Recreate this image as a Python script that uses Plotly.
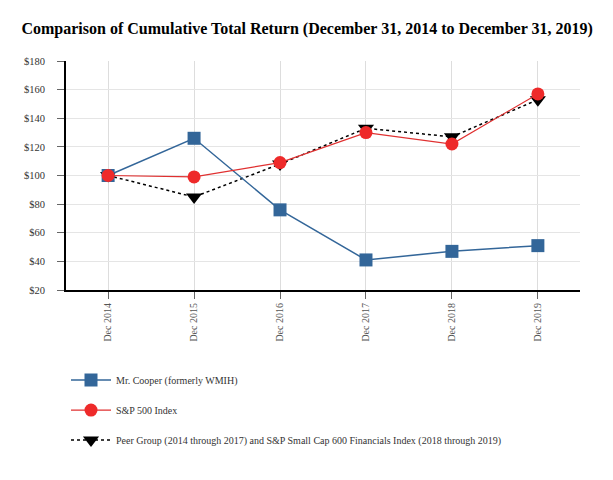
import plotly.graph_objects as go

categories = ["Dec 2014", "Dec 2015", "Dec 2016", "Dec 2017", "Dec 2018", "Dec 2019"]
mr_cooper = [100, 126, 76, 41, 47, 51]
sp500 = [100, 99, 109, 130, 122, 157]
peer = [100, 85, 108, 133, 127, 153]
y_ticks = [20, 40, 60, 80, 100, 120, 140, 160, 180]
y_tick_labels = ["$" + str(v) for v in y_ticks]

FONT = "Liberation Serif"

fig = go.Figure()
fig.add_trace(go.Scatter(
    x=categories, y=peer, name="Peer Group (2014 through 2017) and S&P Small Cap 600 Financials Index (2018 through 2019)",
    mode="lines+markers", legendgroup="c", legendrank=3,
    line=dict(color="black", width=1.5, dash="dot"),
    marker=dict(symbol="triangle-down", size=14, color="black"),
))
fig.add_trace(go.Scatter(
    x=categories, y=mr_cooper, name="Mr. Cooper (formerly WMIH)",
    mode="lines+markers", legendgroup="a", legendrank=1,
    line=dict(color="#336699", width=1.5),
    marker=dict(symbol="square", size=13, color="#336699"),
))
fig.add_trace(go.Scatter(
    x=categories, y=sp500, name="S&P 500 Index",
    mode="lines+markers", legendgroup="b", legendrank=2,
    line=dict(color="#e03030", width=1.2),
    marker=dict(symbol="circle", size=13, color="#ee2a2a"),
))

fig.update_layout(
    width=613, height=480,
    margin=dict(l=58, r=41, t=53, b=198),
    paper_bgcolor="white", plot_bgcolor="white",
    font=dict(family=FONT, size=10, color="#333"),
    title=dict(text="<b>Comparison of Cumulative Total Return (December 31, 2014 to December 31, 2019)</b>",
               x=0.488, xanchor="center", y=0.958, yanchor="middle",
               font=dict(family=FONT, size=16, color="black")),
    showlegend=True,
    legend=dict(orientation="v", x=0.0, xanchor="left", y=-0.33, yanchor="top",
                tracegroupgap=11, itemwidth=40,
                font=dict(family=FONT, size=10, color="#333"),
                bgcolor="rgba(0,0,0,0)", traceorder="grouped"),
)
fig.update_xaxes(
    type="category", range=[-0.49, 5.49],
    showgrid=True, gridcolor="#dddddd", gridwidth=1,
    showline=True, linecolor="black", linewidth=2,
    ticks="outside", ticklen=7, tickcolor="#666", tickangle=-90,
    tickfont=dict(family=FONT, size=10, color="#555"),
)
fig.update_yaxes(
    range=[20, 180], tickvals=y_ticks, ticktext=y_tick_labels,
    showgrid=True, gridcolor="#e5e5e5", gridwidth=1,
    showline=True, linecolor="black", linewidth=2,
    ticks="outside", ticklen=7, tickcolor="#666", ticklabelstandoff=10,
    tickfont=dict(family=FONT, size=10.5, color="#333"),
    zeroline=False,
)

fig.write_html("out.html")
